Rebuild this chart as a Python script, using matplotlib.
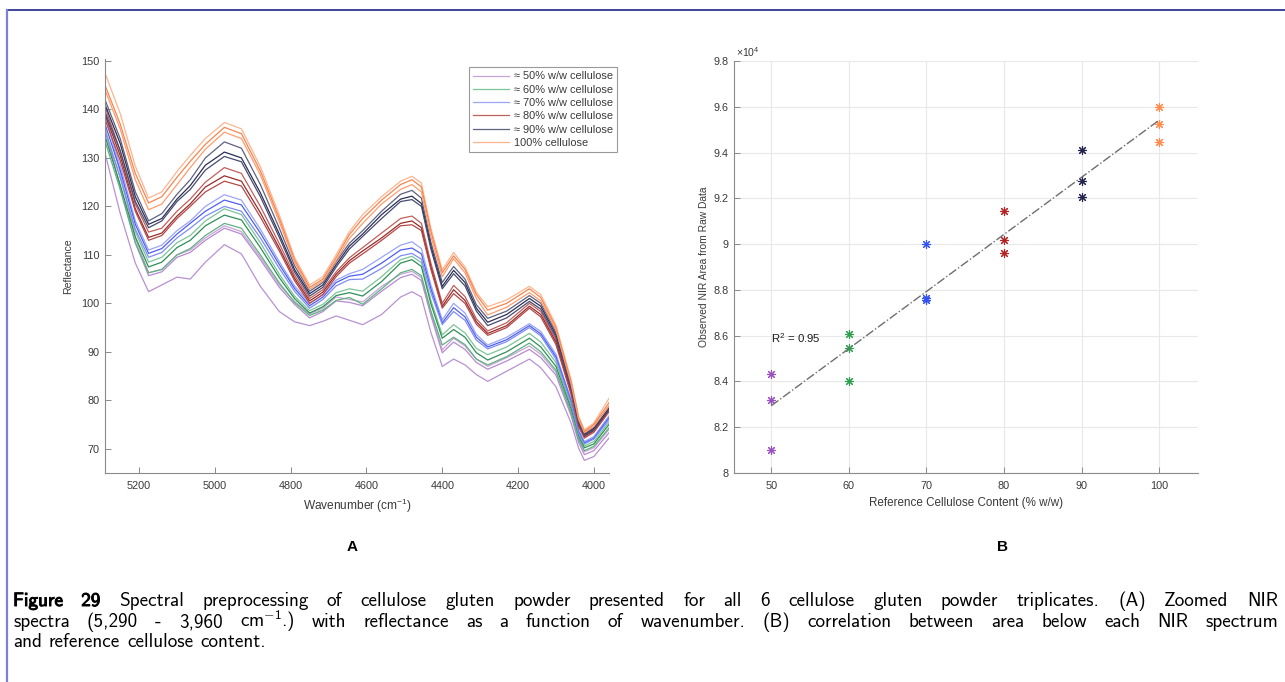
import numpy as np
import matplotlib
matplotlib.use("Agg")
import matplotlib.pyplot as plt
import matplotlib.patheffects as pe
from matplotlib.lines import Line2D

plt.rcParams['font.family'] = ['Liberation Sans', 'DejaVu Sans']
plt.rcParams['mathtext.fontset'] = 'custom'
plt.rcParams['mathtext.rm'] = 'Liberation Sans'
plt.rcParams['mathtext.it'] = 'Liberation Sans:italic'
plt.rcParams['mathtext.bf'] = 'Liberation Sans:bold'
plt.rcParams['mathtext.sf'] = 'cmss10'

# ---- panel A: spectra (wavenumber, reflectance), 3 replicates per mix ----
wavenumber = [5290, 5250, 5210, 5175, 5140, 5100, 5065, 5025, 4975, 4930, 4880, 4830, 4790,
              4750, 4715, 4680, 4645, 4610, 4560, 4510, 4480, 4455, 4430, 4400, 4370, 4340,
              4310, 4280, 4230, 4170, 4140, 4100, 4060, 4040, 4025, 4000, 3960]

refl_50 = [
    [139.5, 127, 113.5, 106.3, 107, 110, 111, 113.5, 116, 114.8, 109.5, 103.8, 100.4, 97.8, 99, 101.3, 100.8, 100.3, 103.5, 106, 106.6, 105.3, 98.1, 90.4, 92.8, 91.2, 88.5, 87, 88.8, 91.2, 89.5, 85.8, 77.4, 71.8, 69.4, 70.2, 74],
    [136, 124, 112.5, 105.7, 106.5, 109.5, 110.5, 113, 115.5, 114.3, 109, 103.3, 99.8, 97, 98.3, 100.5, 100.2, 99.5, 102.5, 105.3, 106, 104.7, 97.5, 89.8, 92, 90.5, 87.8, 86.4, 88.1, 90.5, 88.8, 85.2, 76.8, 71.3, 68.8, 69.6, 73.3],
    [131, 118.6, 108.3, 102.4, 103.8, 105.4, 105, 108.5, 112.1, 110.2, 103.5, 98.3, 96.2, 95.4, 96.3, 97.4, 96.5, 95.6, 97.7, 101.3, 102.4, 101.3, 94, 87, 88.5, 87.3, 85.3, 83.9, 86, 88.5, 86.7, 82.8, 75.3, 70.1, 67.6, 68.4, 72.2],
]
refl_60 = [
    [136, 126, 114.8, 108.5, 109.5, 112.5, 114, 117, 119.5, 118.3, 112.5, 106, 101.5, 98.5, 99.8, 102.2, 103, 102.5, 105.5, 109, 109.7, 108.4, 100.6, 93.5, 95.6, 93.9, 90.7, 89.4, 91, 93.8, 92, 87.8, 78.8, 73, 70.6, 71.5, 75.5],
    [134.5, 124.5, 113.7, 107.5, 108.5, 111.5, 113, 116, 118.2, 117.2, 111.5, 105.3, 101, 98, 99.3, 101.6, 102.2, 101.5, 104.5, 108.3, 109, 107.6, 99.9, 92.8, 94.6, 93, 89.8, 88.3, 90, 92.8, 91, 87, 78.2, 72.5, 70.2, 71, 75],
    [133.5, 123.5, 112.5, 106.3, 107, 110, 111.3, 114, 116.5, 115.5, 110, 104.2, 100.2, 97.5, 98.6, 100.6, 101.2, 99.8, 103, 106.3, 107, 105.7, 98.4, 91.4, 93, 91.5, 88.5, 87.3, 89, 91.8, 90, 86.2, 77.5, 72, 69.6, 70.5, 74.3],
]
refl_70 = [
    [138.5, 128.5, 117, 111, 112, 115, 117, 120, 122.4, 121.3, 115.3, 108.6, 103.6, 100, 101.8, 104.8, 106.1, 107, 109.5, 112, 112.7, 111.3, 103.8, 96.6, 100, 98, 93.6, 91.4, 93, 95.8, 94.2, 89.5, 80.2, 73.8, 71.5, 72.5, 76.8],
    [137, 127.5, 116.3, 110.3, 111.3, 114.3, 116.5, 119, 121.3, 120.3, 114.5, 108, 103.1, 99.5, 101.3, 104.3, 105.6, 106, 108.3, 111, 111.4, 110.2, 103, 96, 99.1, 97.2, 93, 91, 92.5, 95.4, 93.7, 89, 79.8, 73.5, 71.2, 72.2, 76.4],
    [135.5, 126, 115.3, 109.5, 110.5, 113.5, 115.5, 118, 120, 119, 113.5, 107.2, 102.5, 99, 100.8, 103.6, 104.9, 105, 107.2, 109.8, 110.3, 109.1, 102.2, 95.6, 98.3, 96.5, 92.4, 90.6, 92.1, 95, 93.3, 88.5, 79.4, 73.2, 71, 72, 76],
]
refl_80 = [
    [140.5, 131.5, 120.5, 114.7, 115.5, 119, 121.5, 125, 128, 126.8, 120, 112.3, 105.8, 101, 102.8, 106.5, 109.4, 111.5, 114.5, 117.5, 118, 116.5, 108.3, 100, 103.7, 101.4, 96.8, 94.3, 96, 100, 98.3, 92.5, 82, 75, 72.8, 74, 78.3],
    [139, 130.5, 119.5, 113.6, 114.5, 118, 120.5, 124, 126.3, 125.2, 118.7, 111.4, 105.2, 100.5, 102.3, 106, 108.8, 110.8, 113.5, 116.5, 117, 115.6, 107.5, 99.4, 102.8, 100.6, 96.2, 93.8, 95.4, 99.4, 97.7, 92, 81.6, 74.8, 72.5, 73.7, 78],
    [138, 129.5, 119, 113, 114, 117.5, 120, 123, 125.2, 124.2, 117.8, 110.8, 104.7, 100, 101.8, 105.5, 108.3, 110.2, 113, 116, 116.2, 115, 107, 99, 102, 100, 95.7, 93.4, 95, 99, 97.2, 91.5, 81.2, 74.5, 72.2, 73.4, 77.6],
]
refl_90 = [
    [142, 134, 123, 117, 118.5, 122.5, 125.5, 130, 133.3, 132, 124.5, 115.5, 107.8, 102.5, 104.3, 108.6, 112.4, 115, 119, 122.5, 123.3, 121.7, 112.6, 104.3, 107.6, 105, 99.7, 96.9, 98.4, 101.6, 100, 94, 83.2, 75.8, 73.3, 74.5, 78.8],
    [141, 133, 122, 116.3, 117.5, 121.5, 124.3, 128.5, 131.2, 130, 122.8, 114.3, 107, 102, 103.8, 108, 111.8, 114.3, 118.3, 121.5, 122.1, 120.6, 111.8, 103.5, 106.8, 104.3, 99, 96.1, 97.7, 101, 99.4, 93.5, 82.8, 75.5, 73, 74.2, 78.4],
    [139.5, 131.5, 121, 115.6, 117, 121, 123.5, 127.5, 130.3, 129.2, 122, 113.6, 106.5, 101.5, 103.3, 107.5, 111.2, 113.8, 117.5, 121, 121.4, 120, 111.2, 103, 106.1, 103.6, 98.4, 95.4, 97, 100.4, 98.8, 93, 82.4, 75.2, 72.7, 73.9, 78],
]
refl_100 = [
    [147.5, 139.2, 128.3, 121.7, 123, 127.2, 130.5, 134, 137.3, 136, 128.2, 118.2, 109.5, 103.8, 105.5, 110, 114.8, 118.3, 122, 125.2, 126.2, 124.8, 115.5, 106.9, 110.5, 107.5, 102.3, 99.3, 100.7, 103.5, 101.8, 95.5, 84.2, 76.7, 73.9, 75.3, 80.4],
    [145, 137, 126.8, 120.7, 122, 126, 129.3, 132.8, 136.3, 135, 127.3, 117.5, 109, 103.3, 105, 109.4, 114.2, 117.5, 121.3, 124.5, 125.5, 124, 114.8, 106.3, 109.8, 107, 101.8, 98.6, 100, 103, 101.2, 95, 83.8, 76.3, 73.6, 75, 79.5],
    [144, 136, 125.5, 119.3, 120.5, 124.5, 128, 131.8, 135.3, 134, 126.5, 116.8, 108.5, 102.9, 104.6, 108.8, 113.4, 116.5, 120.5, 123.5, 124.5, 123, 113.8, 105.5, 109.2, 106.3, 101, 97.6, 99.2, 102.2, 100.5, 94.5, 83.3, 76, 73.3, 74.6, 78.8],
]

mix_labels = ["\u2248 50% w/w cellulose", "\u2248 60% w/w cellulose", "\u2248 70% w/w cellulose",
              "\u2248 80% w/w cellulose", "\u2248 90% w/w cellulose", "100% cellulose"]
mix_colors = [["#c9a3dc", "#b58ad0", "#b891d2"],
              ["#7cc597", "#2f8f55", "#5fb27f"],
              ["#9aa5f8", "#4d5ff0", "#7f8cf6"],
              ["#c0605c", "#9c2a2a", "#b24a48"],
              ["#5e6283", "#2c2f55", "#474b70"],
              ["#ffb48e", "#f58550", "#ff9c6c"]]

# ---- panel B: NIR area vs reference cellulose content ----
content = [50, 60, 70, 80, 90, 100]
area_50 = [84330, 83200, 81000]
area_60 = [86060, 85480, 84030]
area_70 = [90000, 87650, 87550]
area_80 = [91430, 90180, 89620]
area_90 = [94130, 92760, 92070]
area_100 = [96010, 95240, 94450]
marker_colors = ["#9a4fc2", "#2da04f", "#3553f2", "#b52222", "#20224f", "#ff8a4c"]

W, H = 1285, 682
fig = plt.figure(figsize=(W / 100, H / 100), dpi=100)
fig.patch.set_facecolor("white")

# frame lines around the figure block
fig.add_artist(Line2D([7 / W, 1], [1 - 10 / H, 1 - 10 / H], transform=fig.transFigure,
                      color="#2e3592", lw=1.3))
fig.add_artist(Line2D([7 / W, 7 / W], [0, 1 - 10 / H], transform=fig.transFigure,
                      color="#7d81d6", lw=1.6))

tick_col = "#3a3a3a"
spine_col = "#8a8a8a"

# ----------------- A -----------------
axA = fig.add_axes([105 / W, (H - 473) / H, (609 - 105) / W, (473 - 59) / H])
groups = [refl_50, refl_60, refl_70, refl_80, refl_90, refl_100]
handles = []
for g, reps in enumerate(groups):
    for r, vals in enumerate(reps):
        ln, = axA.plot(wavenumber, vals, color=mix_colors[g][r], lw=0.9)
        if r == 0:
            handles.append(ln)
axA.set_xlim(5290, 3960)
axA.set_ylim(65, 150.4)
axA.set_xticks([5200, 5000, 4800, 4600, 4400, 4200, 4000])
axA.set_yticks([70, 80, 90, 100, 110, 120, 130, 140, 150])
axA.spines[["top", "right"]].set_visible(False)
for s in ["left", "bottom"]:
    axA.spines[s].set_color(spine_col)
axA.tick_params(direction="in", length=4, width=0.7, color=spine_col, labelsize=7.8,
                labelcolor=tick_col)
axA.tick_params(axis="x", pad=6)
axA.tick_params(axis="y", pad=4)
axA.set_xlabel("Wavenumber (cm$^{-1}$)", fontsize=8.6, color=tick_col, labelpad=4)
axA.set_ylabel("Reflectance", fontsize=7.6, color=tick_col, labelpad=6)
leg = axA.legend(handles, mix_labels, loc="upper right", bbox_to_anchor=(617 / W, 1 - 67 / H),
                 bbox_transform=fig.transFigure, borderaxespad=0, fontsize=7.9,
                 handlelength=3.3, handletextpad=0.4, labelspacing=0.3, borderpad=0.4,
                 fancybox=False, framealpha=1)
leg.get_frame().set_edgecolor("#9a9a9a")
leg.get_frame().set_linewidth(0.8)
for t in leg.get_texts():
    t.set_color(tick_col)

# ----------------- B -----------------
axB = fig.add_axes([734 / W, (H - 473) / H, (1198 - 734) / W, (473 - 61) / H])
areas = [area_50, area_60, area_70, area_80, area_90, area_100]
all_x, all_y = [], []
for c, a, col in zip(content, areas, marker_colors):
    axB.plot([c] * len(a), a, linestyle="none", marker=(8, 2, 0), markersize=6.5,
             markeredgewidth=0.8, color=col)
    all_x += [c] * len(a)
    all_y += a
coef = np.polyfit(all_x, all_y, 1)
fx = np.array([content[0], content[-1]])
axB.plot(fx, np.polyval(coef, fx), linestyle="-.", color="#6e6e6e", lw=1.0)
axB.text(50, 85900, "R$^2$ = 0.95", fontsize=8.2, color="#1a1a1a", va="center", ha="left")
axB.set_xlim(45.2, 105)
axB.set_ylim(80000, 98000)
axB.set_xticks([50, 60, 70, 80, 90, 100])
axB.set_yticks(np.arange(80000, 98001, 2000))
axB.yaxis.set_major_formatter(plt.FuncFormatter(lambda v, p: f"{v / 1e4:g}"))
axB.grid(True, color="#e8e8e8", lw=0.8)
axB.set_axisbelow(True)
axB.spines[["top", "right"]].set_visible(False)
for s in ["left", "bottom"]:
    axB.spines[s].set_color(spine_col)
axB.tick_params(direction="in", length=4, width=0.7, color=spine_col, labelsize=7.8,
                labelcolor=tick_col)
axB.tick_params(axis="x", pad=6)
axB.tick_params(axis="y", pad=4)
axB.text(0.004, 1.004, "\u00d710$^{4}$", transform=axB.transAxes, fontsize=7.6,
         color=tick_col, va="bottom", ha="left")
axB.set_xlabel("Reference Cellulose Content (% w/w)", fontsize=8.4, color=tick_col, labelpad=4)
axB.set_ylabel("Observed NIR Area from Raw Data", fontsize=7.4, color=tick_col, labelpad=3)

# panel letters
fig.text(352 / W, 1 - 547 / H, "A", fontsize=11, weight="bold", ha="center", va="center")
fig.text(1003 / W, 1 - 547 / H, "B", fontsize=11, weight="bold", ha="center", va="center")

# caption, justified like the source document
renderer = fig.canvas.get_renderer()
cap_size = 13.8
bold_fx = [pe.withStroke(linewidth=0.7, foreground="black")]


def place_line(words, y_px, x0, x1, justify, n_bold=0):
    texts = []
    for i, w in enumerate(words):
        t = fig.text(0, 1 - y_px / H, w, fontsize=cap_size, family="cmss10", va="baseline")
        if i < n_bold:
            t.set_path_effects(bold_fx)
        texts.append(t)
    widths = [t.get_window_extent(renderer).width for t in texts]
    space = cap_size * 100 / 72 * 0.36
    gap = (x1 - x0 - sum(widths)) / (len(words) - 1) if justify else space
    x = x0
    for t, wd in zip(texts, widths):
        t.set_x(x / W)
        x += wd + gap


line1 = ("Figure 29 Spectral preprocessing of cellulose gluten powder presented for all 6 "
         "cellulose gluten powder triplicates. (A) Zoomed NIR").split(" ")
line2 = ("spectra (5,290 - 3,960 cm$^{\\mathsf{-1}}$.) with reflectance as a function of "
         "wavenumber. (B) correlation between area below each NIR spectrum").split(" ")
line3 = "and reference cellulose content.".split(" ")
place_line(line1, 606, 13, 1278, True, n_bold=2)
place_line(line2, 627, 13, 1278, True)
place_line(line3, 647, 13, 1278, False)

fig.savefig("out.png", dpi=100)
